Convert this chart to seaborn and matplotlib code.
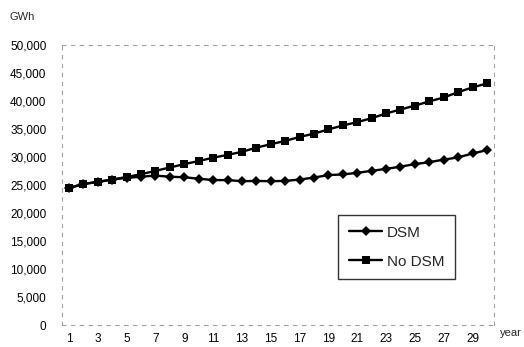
import matplotlib
matplotlib.use("Agg")
import matplotlib.pyplot as plt
import seaborn as sns
import pandas as pd

years = list(range(1, 31))
dsm = [24500, 25200, 25600, 26000, 26300, 26500, 26700, 26500, 26400, 26150,
       25900, 25900, 25700, 25750, 25700, 25750, 26000, 26350, 26800, 26900,
       27200, 27550, 27900, 28300, 28750, 29100, 29550, 29950, 30650, 31250]
no_dsm = [24500, 25200, 25550, 26000, 26450, 26950, 27550, 28150, 28750, 29300,
          29900, 30400, 30950, 31700, 32300, 32900, 33600, 34200, 34950, 35650,
          36250, 36950, 37800, 38500, 39200, 39950, 40650, 41600, 42450, 43150]
y_ticks = list(range(0, 50001, 5000))
x_ticks = list(range(1, 31, 2))

df = pd.DataFrame({
    "year": years * 2,
    "GWh": dsm + no_dsm,
    "case": ["DSM"] * len(years) + ["No DSM"] * len(years),
})

sns.set_theme(style="white")
plt.rcParams["font.family"] = ["Liberation Sans", "DejaVu Sans"]

fig = plt.figure(figsize=(5.24, 3.47), dpi=100)
ax = fig.add_axes([0.118, 0.063, 0.825, 0.807])

sns.lineplot(
    data=df, x="year", y="GWh", hue="case", style="case",
    palette={"DSM": "black", "No DSM": "black"},
    markers={"DSM": "D", "No DSM": "s"}, dashes=False,
    linewidth=1.7, markeredgewidth=0, ax=ax,
)
for line in ax.lines:
    if line.get_marker() == "D":
        line.set_markersize(4.8)
    else:
        line.set_markersize(5.8)

ax.set_xlim(0.5, 30.5)
ax.set_ylim(0, 50000)
ax.set_yticks(y_ticks)
ax.set_yticklabels([f"{v:,}" for v in y_ticks])
ax.set_xticks(x_ticks)
ax.set_xticklabels([str(v) for v in x_ticks])
ax.tick_params(axis="both", length=0, labelsize=8.5, colors="black")
ax.tick_params(axis="y", pad=11)
ax.tick_params(axis="x", pad=6)
ax.set_xlabel("")
ax.set_ylabel("")

for side in ["left", "right", "top", "bottom"]:
    ax.spines[side].set_visible(True)
    ax.spines[side].set_color("#a0a0a0")
    ax.spines[side].set_linewidth(0.8)
    ax.spines[side].set_linestyle((0, (3, 5)))

fig.text(0.018, 0.952, "GWh", fontsize=8, ha="left", va="center")
fig.text(0.955, 0.04, "year", fontsize=8, ha="left", va="center")

handles, labels = ax.get_legend_handles_labels()
for h in handles:
    h.set_markersize(4.8 if h.get_marker() == "D" else 5.8)
leg = ax.legend(
    handles, labels, loc="lower left", bbox_to_anchor=(0.639, 0.163),
    fontsize=11, frameon=True, fancybox=False, handlelength=2.2,
    handletextpad=0.3, labelspacing=1.0, borderpad=0.7, borderaxespad=0,
)
leg.get_frame().set_edgecolor("black")
leg.get_frame().set_linewidth(1.0)

fig.savefig("out.png", dpi=100, facecolor="white")
